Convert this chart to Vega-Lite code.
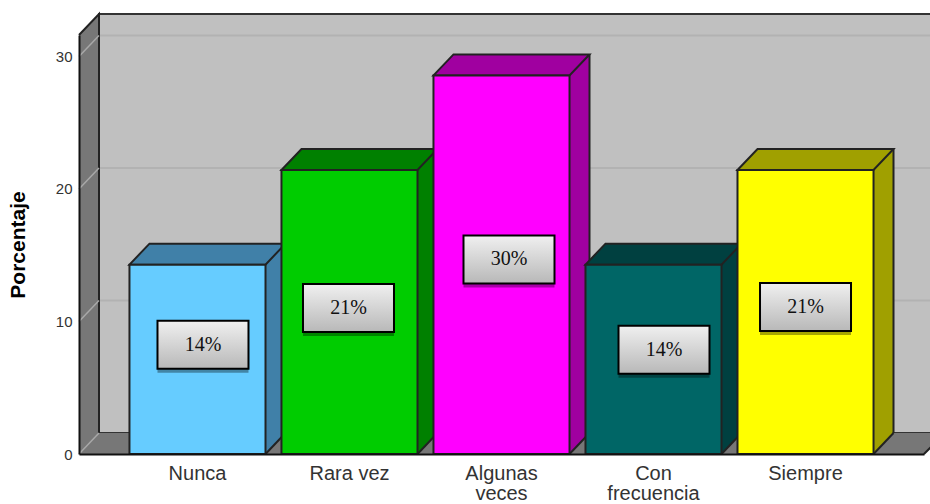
{
"$schema":"https://vega.github.io/schema/vega-lite/v6.json",
"width":851,"height":419,
"autosize":{"type":"none"},
"padding":{"left":79,"top":35,"right":0,"bottom":50},
"background":"white",
"config":{"view":{"stroke":null}},
"datasets":{
 "barras":[
  {"categoria":"Nunca","porcentaje":14.29,"etiqueta":"14%"},
  {"categoria":"Rara vez","porcentaje":21.43,"etiqueta":"21%"},
  {"categoria":"Algunas veces","porcentaje":28.57,"etiqueta":"30%"},
  {"categoria":"Con frecuencia","porcentaje":14.29,"etiqueta":"14%"},
  {"categoria":"Siempre","porcentaje":21.43,"etiqueta":"21%"}
 ],
 "rejilla":[{"valor":10},{"valor":20},{"valor":30}],
 "base":[{"valor":0}]
},
"layer":[
 {"data":{"name":"base"},
  "mark":{"type":"point","shape":"M20 -21 H900 V-440 H20 Z","size":4,"filled":true,"fill":"#c0c0c0","stroke":"#333333","strokeWidth":2,"opacity":1},
  "encoding":{"x":{"value":0},"y":{"field":"valor","type":"quantitative","title":"Porcentaje","scale":{"domain":[0,31.62],"nice":false,"zero":false},
    "axis":{"values":[0,10,20,30],"ticks":false,"grid":false,"zindex":1,"domainColor":"#111111","domainWidth":2,"labelFont":"Liberation Sans","labelFontSize":15,"labelColor":"#333333","labelPadding":7,"titleFont":"Liberation Sans","titleFontSize":21,"titleFontWeight":"bold","titleColor":"#000000","titleX":-51}}}},
 {"data":{"name":"rejilla"},
  "mark":{"type":"rule","yOffset":-21,"stroke":"#b2b2b2","strokeWidth":2},
  "encoding":{"y":{"field":"valor","type":"quantitative"}}},
 {"data":{"name":"base"},
  "mark":{"type":"point","shape":"M0 0 L20 -21 H845 L866 -21 L845 0 Z M0 0 L20 -21 V-440 L0 -419 Z","size":4,"filled":true,"fill":"#777777","strokeWidth":0,"opacity":1},
  "encoding":{"x":{"value":0},"y":{"field":"valor","type":"quantitative"}}},
 {"data":{"name":"base"},
  "mark":{"type":"point","shape":"M20 -21 V-440 L0 -419 M845 0 L866 -21","size":4,"filled":false,"stroke":"#222222","strokeWidth":2,"opacity":1},
  "encoding":{"x":{"value":0},"y":{"field":"valor","type":"quantitative"}}},
 {"data":{"name":"rejilla"},
  "mark":{"type":"point","shape":"M0 0 L20 -21","size":4,"filled":false,"stroke":"#a8a8a8","strokeWidth":1.5,"opacity":1},
  "encoding":{"x":{"value":0},"y":{"field":"valor","type":"quantitative"}}},
 {"data":{"name":"base"},
  "mark":{"type":"point","shape":"M0 0 L20 -21","size":4,"filled":false,"stroke":"#a8a8a8","strokeWidth":1.5,"opacity":1},
  "encoding":{"x":{"value":0},"y":{"field":"valor","type":"quantitative"}}},
 {"data":{"name":"barras"},
  "encoding":{
   "x":{"field":"categoria","type":"nominal","sort":null,"scale":{"range":[0,845],"paddingInner":0.105,"paddingOuter":0.332},
    "axis":{"title":null,"ticks":false,"zindex":1,"domainColor":"#111111","domainWidth":2,"labelAngle":0,"labelFont":"Liberation Sans","labelFontSize":20,"labelColor":"#333333","labelPadding":9,"labelLineHeight":20.5,"labelOverlap":false,"labelBaseline":"top",
     "labelExpr":"datum.value == 'Algunas veces' ? ['Algunas','veces'] : datum.value == 'Con frecuencia' ? ['Con','frecuencia'] : datum.value"}},
   "y":{"field":"porcentaje","type":"quantitative"}
  },
  "layer":[
   {"mark":{"type":"bar","xOffset":20,"x2Offset":20,"yOffset":-21,"y2Offset":-21},
    "encoding":{"y2":{"datum":0},"fill":{"field":"categoria","type":"nominal","legend":null,"scale":{"domain":["Nunca","Rara vez","Algunas veces","Con frecuencia","Siempre"],"range":["#4080a8","#008000","#a000a0","#004040","#a0a000"]}}}},
   {"mark":{"type":"point","shape":"M68 0 L88 -21 H68 Z","size":4,"filled":true,"strokeWidth":0,"opacity":1},
    "encoding":{"y":{"datum":0},"fill":{"field":"categoria","type":"nominal","legend":null}}},
   {"mark":{"type":"point","shape":"M68 0 L88 -21","size":4,"filled":false,"stroke":"#222222","strokeWidth":2,"opacity":1},
    "encoding":{"y":{"datum":0}}},
   {"mark":{"type":"rule","xOffset":88,"yOffset":-21,"y2Offset":-21,"stroke":"#222222","strokeWidth":2},
    "encoding":{"y2":{"datum":0}}},
   {"mark":{"type":"point","shape":"M-68 0 L-48 -21 H88 L68 0 Z","size":4,"filled":true,"stroke":"#222222","strokeWidth":2,"opacity":1},
    "encoding":{"fill":{"field":"categoria","type":"nominal","legend":null}}},
   {"mark":{"type":"bar","stroke":"#222222","strokeWidth":2},
    "encoding":{"y2":{"datum":0},"color":{"field":"categoria","type":"nominal","legend":null,"scale":{"domain":["Nunca","Rara vez","Algunas veces","Con frecuencia","Siempre"],"range":["#66ccff","#00cc00","#ff00ff","#006666","#ffff00"]}}}},
   {"transform":[{"filter":{"field":"categoria","equal":"Nunca"}}],
    "layer":[
     {"mark":{"type":"point","shape":"M-45.5 -24 H45.5 V24 H-45.5 Z","size":4,"filled":true,"fill":"#000000","opacity":0.35,"strokeWidth":0,"xOffset":5.5,"yOffset":84}},
     {"mark":{"type":"point","shape":"M-45.5 -24 H45.5 V24 H-45.5 Z","size":4,"filled":true,"fill":{"gradient":"linear","x1":0,"y1":0,"x2":0,"y2":1,"stops":[{"offset":0,"color":"#f0f0f0"},{"offset":1,"color":"#b8b8b8"}]},"stroke":"#000000","strokeWidth":2,"opacity":1,"xOffset":5.5,"yOffset":80}},
     {"mark":{"type":"text","font":"Liberation Serif","fontSize":20,"color":"#111111","align":"center","baseline":"middle","xOffset":5.5,"yOffset":80},"encoding":{"text":{"field":"etiqueta"}}}
    ]},
   {"transform":[{"filter":{"field":"categoria","equal":"Rara vez"}}],
    "layer":[
     {"mark":{"type":"point","shape":"M-45.5 -24 H45.5 V24 H-45.5 Z","size":4,"filled":true,"fill":"#000000","opacity":0.35,"strokeWidth":0,"xOffset":-1,"yOffset":142}},
     {"mark":{"type":"point","shape":"M-45.5 -24 H45.5 V24 H-45.5 Z","size":4,"filled":true,"fill":{"gradient":"linear","x1":0,"y1":0,"x2":0,"y2":1,"stops":[{"offset":0,"color":"#f0f0f0"},{"offset":1,"color":"#b8b8b8"}]},"stroke":"#000000","strokeWidth":2,"opacity":1,"xOffset":-1,"yOffset":138}},
     {"mark":{"type":"text","font":"Liberation Serif","fontSize":20,"color":"#111111","align":"center","baseline":"middle","xOffset":-1,"yOffset":138},"encoding":{"text":{"field":"etiqueta"}}}
    ]},
   {"transform":[{"filter":{"field":"categoria","equal":"Algunas veces"}}],
    "layer":[
     {"mark":{"type":"point","shape":"M-45.5 -24 H45.5 V24 H-45.5 Z","size":4,"filled":true,"fill":"#000000","opacity":0.35,"strokeWidth":0,"xOffset":7.5,"yOffset":188}},
     {"mark":{"type":"point","shape":"M-45.5 -24 H45.5 V24 H-45.5 Z","size":4,"filled":true,"fill":{"gradient":"linear","x1":0,"y1":0,"x2":0,"y2":1,"stops":[{"offset":0,"color":"#f0f0f0"},{"offset":1,"color":"#b8b8b8"}]},"stroke":"#000000","strokeWidth":2,"opacity":1,"xOffset":7.5,"yOffset":184}},
     {"mark":{"type":"text","font":"Liberation Serif","fontSize":20,"color":"#111111","align":"center","baseline":"middle","xOffset":7.5,"yOffset":184},"encoding":{"text":{"field":"etiqueta"}}}
    ]},
   {"transform":[{"filter":{"field":"categoria","equal":"Con frecuencia"}}],
    "layer":[
     {"mark":{"type":"point","shape":"M-45.5 -24 H45.5 V24 H-45.5 Z","size":4,"filled":true,"fill":"#000000","opacity":0.35,"strokeWidth":0,"xOffset":10.5,"yOffset":89}},
     {"mark":{"type":"point","shape":"M-45.5 -24 H45.5 V24 H-45.5 Z","size":4,"filled":true,"fill":{"gradient":"linear","x1":0,"y1":0,"x2":0,"y2":1,"stops":[{"offset":0,"color":"#f0f0f0"},{"offset":1,"color":"#b8b8b8"}]},"stroke":"#000000","strokeWidth":2,"opacity":1,"xOffset":10.5,"yOffset":85}},
     {"mark":{"type":"text","font":"Liberation Serif","fontSize":20,"color":"#111111","align":"center","baseline":"middle","xOffset":10.5,"yOffset":85},"encoding":{"text":{"field":"etiqueta"}}}
    ]},
   {"transform":[{"filter":{"field":"categoria","equal":"Siempre"}}],
    "layer":[
     {"mark":{"type":"point","shape":"M-45.5 -24 H45.5 V24 H-45.5 Z","size":4,"filled":true,"fill":"#000000","opacity":0.35,"strokeWidth":0,"xOffset":0,"yOffset":141}},
     {"mark":{"type":"point","shape":"M-45.5 -24 H45.5 V24 H-45.5 Z","size":4,"filled":true,"fill":{"gradient":"linear","x1":0,"y1":0,"x2":0,"y2":1,"stops":[{"offset":0,"color":"#f0f0f0"},{"offset":1,"color":"#b8b8b8"}]},"stroke":"#000000","strokeWidth":2,"opacity":1,"xOffset":0,"yOffset":137}},
     {"mark":{"type":"text","font":"Liberation Serif","fontSize":20,"color":"#111111","align":"center","baseline":"middle","xOffset":0,"yOffset":137},"encoding":{"text":{"field":"etiqueta"}}}
    ]}
  ]}
]
}
